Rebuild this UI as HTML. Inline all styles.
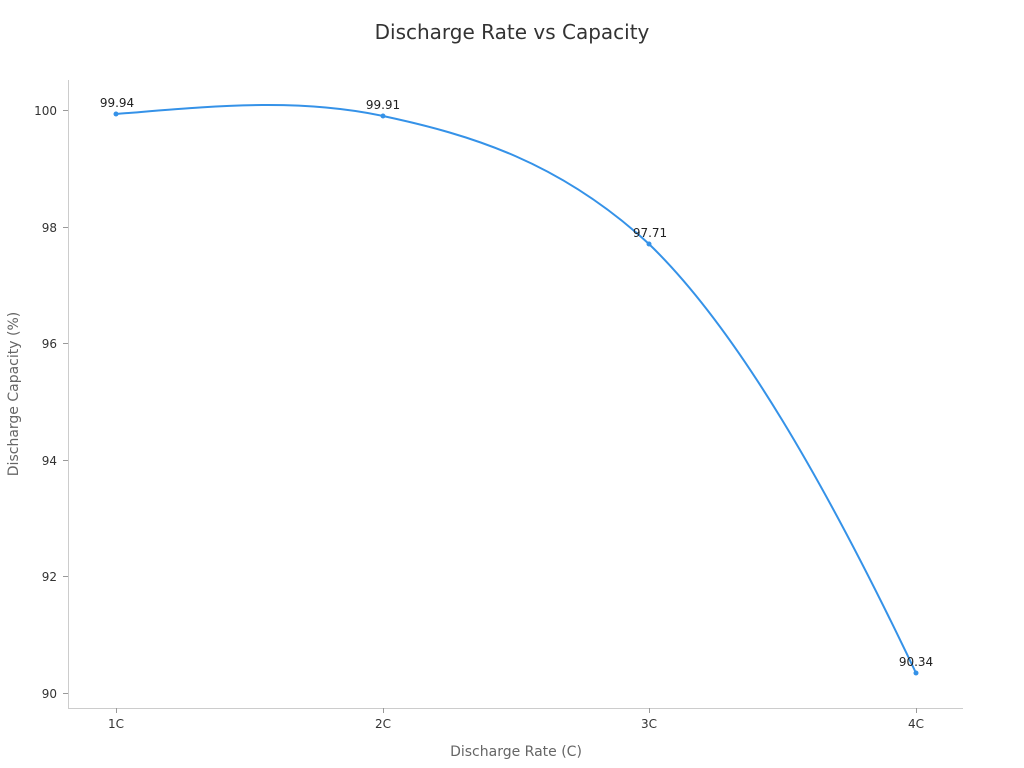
<!DOCTYPE html>
<html><head><meta charset="utf-8"><style>
html,body{margin:0;padding:0;background:#fff;}
svg{display:block;font-family:"DejaVu Sans","Liberation Sans",sans-serif;}
</style></head><body>
<svg width="1024" height="768" viewBox="0 0 1024 768">
<text x="512" y="39" text-anchor="middle" font-size="20" fill="#333">Discharge Rate vs Capacity</text>
<line x1="68.5" y1="80" x2="68.5" y2="708" stroke="#ccc"/>
<line x1="68" y1="708.5" x2="963" y2="708.5" stroke="#ccc"/>
<g stroke="#999">
<line x1="63" y1="110.5" x2="68" y2="110.5"/>
<line x1="63" y1="227.5" x2="68" y2="227.5"/>
<line x1="63" y1="343.5" x2="68" y2="343.5"/>
<line x1="63" y1="460.5" x2="68" y2="460.5"/>
<line x1="63" y1="576.5" x2="68" y2="576.5"/>
<line x1="63" y1="693.5" x2="68" y2="693.5"/>
<line x1="116.5" y1="708" x2="116.5" y2="713"/>
<line x1="383.5" y1="708" x2="383.5" y2="713"/>
<line x1="649.5" y1="708" x2="649.5" y2="713"/>
<line x1="916.5" y1="708" x2="916.5" y2="713"/>
</g>
<g font-size="12" fill="#333" text-anchor="end">
<text x="57" y="115">100</text>
<text x="57" y="232">98</text>
<text x="57" y="348">96</text>
<text x="57" y="465">94</text>
<text x="57" y="581">92</text>
<text x="57" y="698">90</text>
</g>
<g font-size="12" fill="#333" text-anchor="middle">
<text x="116" y="728">1C</text>
<text x="383" y="728">2C</text>
<text x="649" y="728">3C</text>
<text x="916" y="728">4C</text>
</g>
<text x="516" y="756" text-anchor="middle" font-size="14" fill="#666">Discharge Rate (C)</text>
<text transform="translate(18,394) rotate(-90)" text-anchor="middle" font-size="14" fill="#666">Discharge Capacity (%)</text>
<path d="M116,114 C205,107 294,97 383,116 C472,135 560,162 649,244 C738,330 827,486 916,673" fill="none" stroke="#3592e8" stroke-width="2"/>
<g fill="#3592e8">
<circle cx="116" cy="114" r="2.5"/>
<circle cx="383" cy="116" r="2.5"/>
<circle cx="649" cy="244" r="2.5"/>
<circle cx="916" cy="673" r="2.5"/>
</g>
<g font-size="12" fill="#222" text-anchor="middle">
<text x="117" y="107">99.94</text>
<text x="383" y="109">99.91</text>
<text x="650" y="237">97.71</text>
<text x="916" y="666">90.34</text>
</g>
</svg>
</body></html>
